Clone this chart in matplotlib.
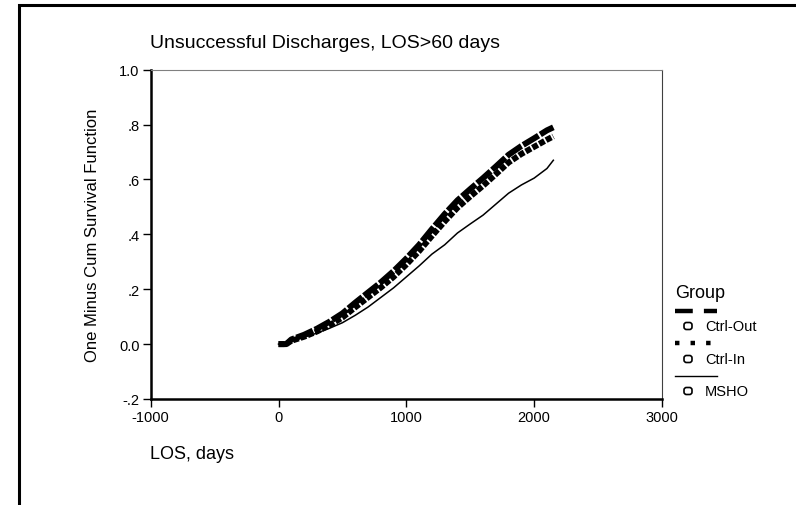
import matplotlib
matplotlib.use("Agg")
import matplotlib.pyplot as plt
from matplotlib.lines import Line2D
from matplotlib.patches import Rectangle, FancyBboxPatch
from matplotlib import font_manager

# ---- data ----
los_band = [0, 60, 100, 200, 300, 400, 500, 600, 700, 800, 900, 1000, 1100, 1200,
            1300, 1400, 1500, 1600, 1700, 1800, 1900, 2000, 2100, 2150]
ctrl_out = [0.0, 0.0, 0.017, 0.034, 0.056, 0.082, 0.112, 0.151, 0.188, 0.225, 0.266,
            0.312, 0.362, 0.419, 0.474, 0.524, 0.565, 0.605, 0.647, 0.690, 0.722,
            0.750, 0.779, 0.790]
ctrl_in = [0.0, 0.0, 0.012, 0.027, 0.046, 0.069, 0.097, 0.134, 0.170, 0.206, 0.245,
           0.290, 0.339, 0.394, 0.447, 0.497, 0.538, 0.577, 0.619, 0.662, 0.693,
           0.719, 0.745, 0.757]
los_msho = [0, 60, 100, 200, 300, 400, 500, 600, 700, 800, 900, 1000, 1100, 1200,
            1300, 1400, 1500, 1600, 1700, 1800, 1900, 2000, 2100, 2150]
msho = [0.0, 0.0, 0.010, 0.025, 0.040, 0.058, 0.078, 0.105, 0.135, 0.170, 0.205,
        0.245, 0.285, 0.328, 0.362, 0.405, 0.438, 0.470, 0.510, 0.550, 0.580,
        0.605, 0.640, 0.670]

groups = ["Ctrl-Out", "Ctrl-In", "MSHO"]
x_ticks = [-1000, 0, 1000, 2000, 3000]
y_ticks = [-0.2, 0.0, 0.2, 0.4, 0.6, 0.8, 1.0]
y_tick_labels = ["-.2", "0.0", ".2", ".4", ".6", ".8", "1.0"]

title = "Unsuccessful Discharges, LOS>60 days"
xlabel = "LOS, days"
ylabel = "One Minus Cum Survival Function"

# ---- fonts ----
avail = {f.name for f in font_manager.fontManager.ttflist}
narrow = ["Liberation Sans Narrow", "Liberation Sans", "DejaVu Sans"]
narrow = [f for f in narrow if f in avail] or ["DejaVu Sans"]
regular = [f for f in ["Liberation Sans", "DejaVu Sans"] if f in avail]

W, H = 796, 506
fig = plt.figure(figsize=(W / 100, H / 100), dpi=100)

# outer frame (clipped on right/bottom)
fig.patches.append(Rectangle((19 / W, -0.2), 1.5, 1 - 6 / H + 0.2,
                             transform=fig.transFigure, fill=False,
                             edgecolor="black", linewidth=2.2))

ax = fig.add_axes([150.7 / W, 1 - 400 / H, (662 - 150.7) / W, (400 - 70.7) / H])

ax.plot(los_band, ctrl_out, color="black", linewidth=4.3, linestyle=(0, (3, 0.35)),
        solid_capstyle="butt")
ax.plot(los_band, ctrl_in, color="black", linewidth=4.3, linestyle=(0, (1, 0.3)))
ax.plot(los_msho, msho, color="black", linewidth=1.1)

ax.set_xlim(-1000, 3000)
ax.set_ylim(-0.2, 1.0)
ax.set_xticks(x_ticks)
ax.set_xticklabels([str(v) for v in x_ticks], fontfamily=narrow, fontsize=10.5)
ax.set_yticks(y_ticks)
ax.set_yticklabels(y_tick_labels, fontfamily=narrow, fontsize=10.5)
ax.tick_params(direction="out", length=6, width=1, color="black", pad=2)

for s in ["left", "bottom"]:
    ax.spines[s].set_linewidth(1.8)
    ax.spines[s].set_color("black")
ax.spines["top"].set_linewidth(0.8)
ax.spines["top"].set_color("#808080")
ax.spines["right"].set_linewidth(0.8)
ax.spines["right"].set_color("#404040")

ax.set_ylabel(ylabel, fontfamily=regular, fontsize=12)
ax.yaxis.set_label_coords(-0.100, 0.5)

fig.text(150 / W, 1 - 43 / H, title, fontfamily=narrow, fontsize=14,
         ha="left", va="center")
fig.text(150 / W, 1 - 455 / H, xlabel, fontfamily=narrow, fontsize=13,
         ha="left", va="center")

# legend
fig.text(675 / W, 1 - 293 / H, "Group", fontfamily=narrow, fontsize=13,
         ha="left", va="center")
styles = [dict(linewidth=3.2, linestyle=(0, (4, 2.5))),
          dict(linewidth=3.2, linestyle=(0, (1, 2.5))),
          dict(linewidth=1.0, linestyle="-")]
line_y = [311.5, 344, 377]
text_y = [327, 360, 392]
inch = fig.dpi_scale_trans
for g, st, ly, ty in zip(groups, styles, line_y, text_y):
    fig.lines.append(Line2D([675 / W, 717 / W], [1 - ly / H, 1 - ly / H],
                            transform=fig.transFigure, color="black", **st))
    fig.patches.append(FancyBboxPatch((684 / 100, (H - ty - 3.5) / 100), 8 / 100, 7 / 100,
                                      boxstyle="round,pad=0,rounding_size=0.025",
                                      transform=inch, fill=False,
                                      edgecolor="black", linewidth=1.2))
    fig.text(705 / W, 1 - ty / H, g, fontfamily=narrow, fontsize=10.5,
             ha="left", va="center")

fig.savefig("out.png", dpi=100)
